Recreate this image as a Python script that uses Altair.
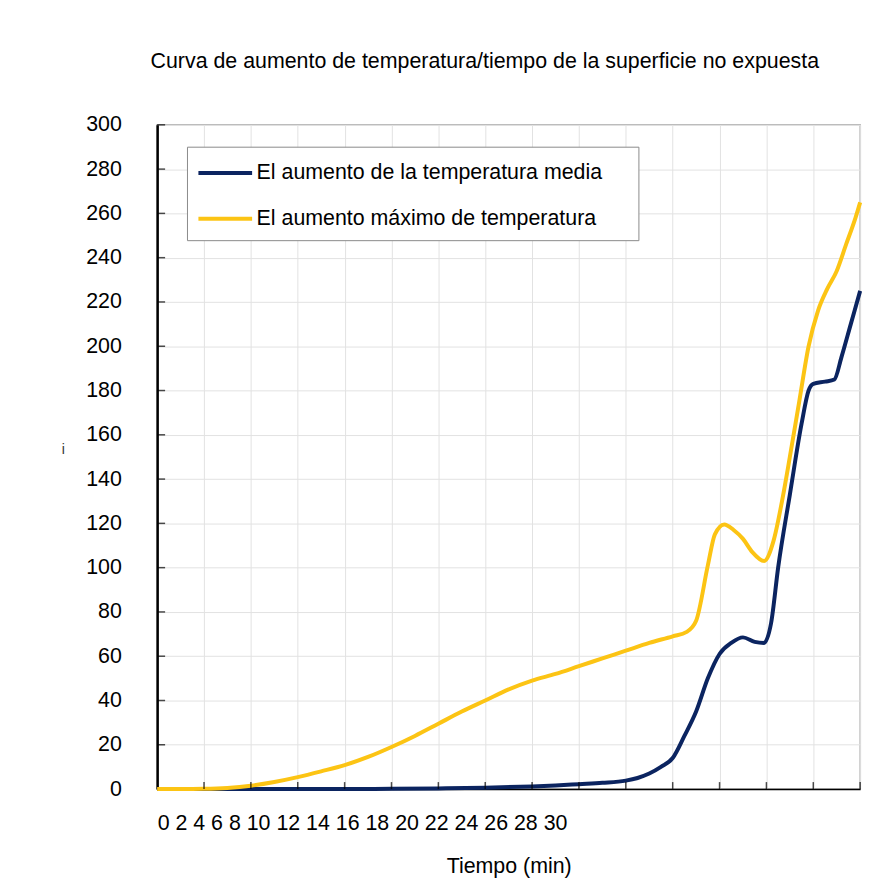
import altair as alt
import pandas as pd

# ---- data ----
series_names = ["El aumento de la temperatura media", "El aumento máximo de temperatura"]
series_colors = ["#0b2460", "#fcc414"]

t_mean = [0, 2, 4, 6, 8, 10, 12, 14, 16, 17, 18, 19, 20, 20.5, 21, 21.5, 22, 22.5, 23, 23.5,
          24, 24.5, 25, 25.5, 25.9, 26.2, 26.5, 27, 27.5, 27.8, 28, 28.5, 28.9, 29.2, 29.6, 30]
v_mean = [0, 0, 0, 0, 0, 0.1, 0.3, 0.6, 1.2, 1.6, 2.2, 2.8, 3.8, 5, 7, 10, 14, 24, 35, 50,
          61, 66, 68.5, 66.5, 66, 75, 100, 133, 165, 180, 183, 184, 185, 195, 210, 225]

t_max = [0, 1, 2, 3, 4, 5, 6, 7, 8, 9, 10, 11, 12, 13, 14, 15, 16, 17, 18, 19, 20, 21, 22,
         22.6, 23, 23.5, 23.8, 24.2, 24.6, 25, 25.4, 25.9, 26.3, 26.7, 27, 27.4, 27.8, 28.2,
         28.6, 29, 29.4, 29.8, 30]
v_max = [0, 0, 0.1, 0.5, 1.5, 3.2, 5.4, 8, 10.8, 14.5, 19, 24, 29.5, 35, 40, 45, 49, 52, 55.5,
         59, 62.5, 66, 69, 71, 76, 101, 115, 119.5, 117, 113, 107, 103, 112, 132, 150, 175, 200,
         216, 226, 234, 246, 258, 265]

x_grid = list(range(0, 31, 2))
x_ticks = list(range(2, 31, 2))
y_values = list(range(0, 301, 20))
y_ticks = list(range(20, 301, 20))
x_label_text = "0 2 4 6 8 10 12 14 16 18 20 22 24 26 28 30"

title_text = "Curva de aumento de temperatura/tiempo de la superficie no expuesta"
x_title = "Tiempo (min)"
y_title = "i"

df = pd.concat([
    pd.DataFrame({"t": t_mean, "v": v_mean, "serie": series_names[0]}),
    pd.DataFrame({"t": t_max, "v": v_max, "serie": series_names[1]}),
])

FONT = "Liberation Sans"
FS = 21.5

x_scale = alt.Scale(domain=[0, 30], nice=False, zero=False)
y_scale = alt.Scale(domain=[0, 300], nice=False)

x_axis = alt.Axis(values=x_grid, title=x_title, ticks=False,
                  labelExpr=f"datum.value == 0 ? '{x_label_text}' : ''",
                  labelAlign="left", labelFlush=False, labelOverlap=False,
                  labelBound=False, labelLimit=2000, labelPadding=24, titlePadding=21,
                  domainColor="black", domainWidth=1.5)
y_axis = alt.Axis(values=y_values, title=y_title, ticks=False,
                  labelPadding=36, titleAngle=0, titleFontSize=14,
                  titleColor="#333", titleX=-95, titleY=327,
                  titleAlign="center", titleBaseline="middle",
                  domainColor="black", domainWidth=2.5)

lines = alt.Chart(df).mark_line(strokeWidth=4, interpolate="monotone").encode(
    x=alt.X("t:Q", scale=x_scale, axis=x_axis),
    y=alt.Y("v:Q", scale=y_scale, axis=y_axis),
    color=alt.Color("serie:N", scale=alt.Scale(domain=series_names, range=series_colors),
                    legend=alt.Legend(title=None, orient="none", legendX=30, legendY=22,
                                      symbolType="M-2,0H2", symbolSize=729,
                                      symbolStrokeWidth=4, symbolOffset=12,
                                      labelFontSize=FS, labelFont=FONT, labelOffset=16,
                                      padding=11, rowPadding=20, strokeColor="#8a8a8a",
                                      fillColor="white", labelLimit=600,
                                      labelExpr="datum.label + '\u2009\u2009\u2800'")),
)

xt = alt.Chart(pd.DataFrame({"t": x_ticks, "v": [0] * len(x_ticks)})).mark_tick(
    orient="vertical", color="black", size=7, thickness=1.5, yOffset=-3.5
).encode(x=alt.X("t:Q", scale=x_scale, axis=x_axis),
         y=alt.Y("v:Q", scale=y_scale, axis=y_axis))

yt = alt.Chart(pd.DataFrame({"v": y_ticks, "t": [0] * len(y_ticks)})).mark_tick(
    orient="horizontal", color="black", size=8, thickness=1.5, xOffset=4
).encode(x=alt.X("t:Q", scale=x_scale, axis=x_axis),
         y=alt.Y("v:Q", scale=y_scale, axis=y_axis))

chart = alt.layer(lines, xt, yt).properties(
    width=707, height=668,
    title=alt.TitleParams(title_text, fontSize=FS, font=FONT, fontWeight="normal",
                          color="black", offset=25, baseline="alphabetic", dx=-24),
    padding={"left": 53, "top": 40, "right": 20, "bottom": 5},
).configure_view(
    stroke="#b4b4b4", strokeWidth=1.5
).configure_axis(
    gridColor="#e2e2e2", gridWidth=1, labelFont=FONT, labelFontSize=FS,
    labelColor="black", titleFont=FONT, titleFontSize=FS, titleColor="black",
    titleFontWeight="normal"
)

chart.save("out.html", embed_options={"renderer": "svg", "actions": False})
